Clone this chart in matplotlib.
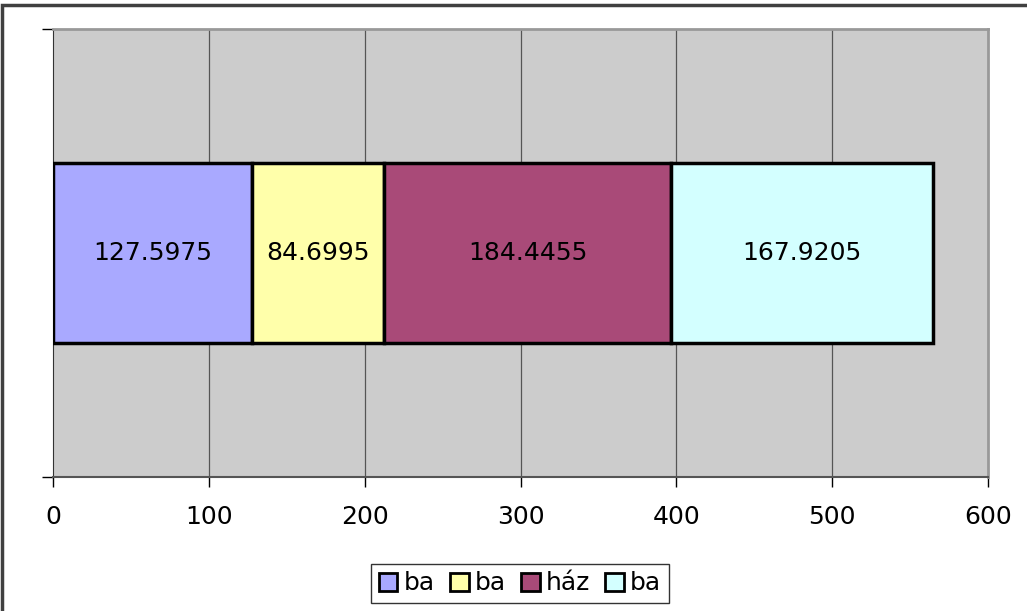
import matplotlib
matplotlib.use("Agg")
import matplotlib.pyplot as plt
from matplotlib.patches import Patch, Rectangle

labels = ["ba", "ba", "ház", "ba"]
values = [127.5975, 84.6995, 184.4455, 167.9205]
colors = ["#A9A9FF", "#FFFFAA", "#A94A78", "#D3FFFF"]
xticks = [0, 100, 200, 300, 400, 500, 600]

W, H = 1027, 611
fig = plt.figure(figsize=(W / 100, H / 100), dpi=100)
plt.rcParams["font.family"] = "DejaVu Sans"

# outer chart frame (right and bottom edges run off the image)
fig.patches.append(Rectangle((1.5 / W, -0.1), 1.2, 1 - 5 / H + 0.1,
                             transform=fig.transFigure, fill=False,
                             edgecolor="#404040", linewidth=2.5))

ax = fig.add_axes([53 / W, (H - 477) / H, 935 / W, 448 / H])
ax.set_facecolor("#CCCCCC")
ax.set_xlim(0, 600)
ax.set_ylim(-0.5, 0.5)

for x in xticks[1:-1]:
    ax.axvline(x, color="#555555", linewidth=0.9, zorder=1)

left = 0
for v, c in zip(values, colors):
    ax.barh(0, v, left=left, height=0.4, color=c, edgecolor="black",
            linewidth=2.5, zorder=3)
    ax.text(left + v / 2, 0, str(v), ha="center", va="center",
            fontsize=18, zorder=4)
    left += v

ax.set_xticks(xticks)
ax.set_xticklabels([str(t) for t in xticks], fontsize=18)
ax.set_yticks([-0.5, 0.5])
ax.set_yticklabels([])
ax.tick_params(axis="x", direction="out", length=7, width=1, pad=13)
ax.tick_params(axis="y", direction="out", length=8, width=1)

for side in ["top", "right"]:
    ax.spines[side].set_color("#999999")
    ax.spines[side].set_linewidth(2)
ax.spines["left"].set_color("#333333")
ax.spines["bottom"].set_color("#555555")
ax.spines["bottom"].set_linewidth(1.5)

handles = [Patch(facecolor=c, edgecolor="black", linewidth=2) for c in colors]
leg = fig.legend(handles, labels, loc="center", bbox_to_anchor=(520 / W, 1 - 583.5 / H),
                 ncol=4, fontsize=18, frameon=True, fancybox=False,
                 handlelength=0.75, handleheight=0.75, handletextpad=0.25,
                 columnspacing=0.6, borderpad=0.3, borderaxespad=0)
leg.get_frame().set_edgecolor("black")
leg.get_frame().set_linewidth(1)

fig.savefig("out.png", dpi=100)
